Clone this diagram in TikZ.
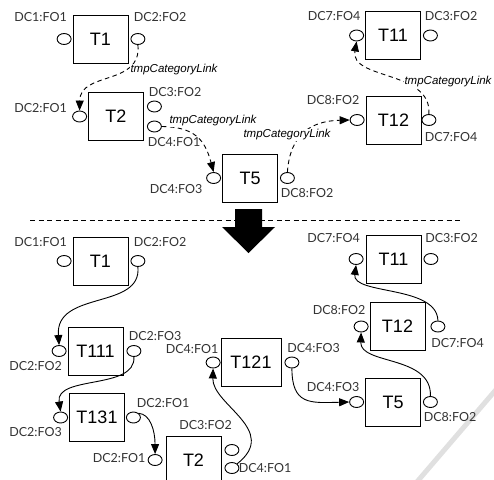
\documentclass[tikz,border=0pt]{standalone}
\usepackage{fontspec}
\setmainfont{Liberation Sans}
\newfontfamily\dcfont{Lato}
\usetikzlibrary{arrows.meta, positioning, shapes.geometric}

\tikzset{
  task/.style={draw, line width=0.9pt, minimum width=55pt, minimum height=48pt, inner sep=0pt, font=\fontsize{18}{18}\selectfont},
  port/.style={draw, line width=0.9pt, ellipse, minimum width=14pt, minimum height=11pt, inner sep=0pt},
  dclabel/.style={font=\dcfont\fontsize{12.5}{12.5}\selectfont, text=black!80, inner sep=0pt},
  linklabel/.style={font=\itshape\fontsize{11.5}{11.5}\selectfont, fill=white, inner sep=0.6pt},
  tmplink/.style={line width=0.9pt, dash pattern=on 4.5pt off 3.5pt, -{Triangle[length=10pt,width=8pt]}},
  catlink/.style={line width=0.9pt, -{Triangle[length=10pt,width=8pt]}}
}

\begin{document}
\begin{tikzpicture}[x=1pt, y=-1pt]
  \useasboundingbox (0,0) rectangle (494,479);
  \clip (0,0) rectangle (494,479);

  % page mark
  \draw[black!12, line width=5pt] (416,483) -- (500,385);

  % --- before ---
  \node[task] (t1) at (100.5,39) {T1};
  \node[task] (t2) at (116,116.5) {T2};
  \node[task] (t5) at (250,178) {T5};
  \node[task] (t12) at (393.5,120) {T12};
  \node[task] (t11) at (393,35.5) {T11};

  \node[port, left=1pt of t1] (t1l) {};
  \node[port, right=2pt of t1] (t1r) {};
  \node[port, left=1pt of t2] (t2l) {};
  \node[port, anchor=west] (t2a) at ([xshift=3pt, yshift=10pt]t2.east) {};
  \node[port, anchor=west] (t2b) at ([xshift=3pt, yshift=-10pt]t2.east) {};
  \node[port, left=1pt of t5] (t5l) {};
  \node[port, right=2pt of t5] (t5r) {};
  \node[port, left=1pt of t12] (t12l) {};
  \node[port, right=0pt of t12] (t12r) {};
  \node[port, left=1pt of t11] (t11l) {};
  \node[port, right=2pt of t11] (t11r) {};

  \node[dclabel] (t1lt) at (40.5,17) {DC1:FO1};
  \node[dclabel] (t1rt) at (160,17) {DC2:FO2};
  \node[dclabel] (t2lt) at (40.5,108) {DC2:FO1};
  \node[dclabel] (t2at) at (175,92) {DC3:FO2};
  \node[dclabel] (t2bt) at (174,142) {DC4:FO1};
  \node[dclabel] (t5lt) at (176,189) {DC4:FO3};
  \node[dclabel] (t5rt) at (307,193) {DC8:FO2};
  \node[dclabel] (t12lt) at (333,100) {DC8:FO2};
  \node[dclabel] (t12rt) at (451,137) {DC7:FO4};
  \node[dclabel] (t11lt) at (334,16) {DC7:FO4};
  \node[dclabel] (t11rt) at (451,16) {DC3:FO2};

  \draw[tmplink] (t1r.south) .. controls (142,86) and (80,71) .. (t2l.north);
  \draw[tmplink] (t2b.east) .. controls (195,127) and (205,140) .. (t5l.north);
  \draw[tmplink] (t5r.north) .. controls (290,135) and (310,121) .. (t12l.west);
  \draw[tmplink] (t12r.north) .. controls (432,70) and (350,80) .. (t11l.south);

  \node[linklabel] (lk1) at (174,70) {tmpCategoryLink};
  \node[linklabel] (lk2) at (213,121) {tmpCategoryLink};
  \node[linklabel] (lk3) at (287,135) {tmpCategoryLink};
  \node[linklabel] (lk4) at (448,82) {tmpCategoryLink};

  % separator and merge arrow
  \draw[line width=0.9pt, dash pattern=on 5pt off 3.5pt] (30,220) -- (462,220);
  \fill (235,209) -- (262,209) -- (262,227) -- (275,227) -- (248.5,253)
    -- (222,227) -- (235,227) -- cycle;

  % --- after ---
  \node[task] (b1) at (100.5,261) {T1};
  \node[task] (b111) at (95.5,351) {T111};
  \node[task] (b131) at (97,417.5) {T131};
  \node[task] (b2) at (193.5,460) {T2};
  \node[task, minimum width=60pt] (b121) at (251,362.5) {T121};
  \node[task] (b5) at (393,402) {T5};
  \node[task] (b12) at (397.5,326.5) {T12};
  \node[task] (b11) at (393.5,259) {T11};

  \node[port, left=1pt of b1] (b1l) {};
  \node[port, right=2pt of b1] (b1r) {};
  \node[port, left=1pt of b111] (b111l) {};
  \node[port, right=3pt of b111] (b111r) {};
  \node[port, left=1pt of b131] (b131l) {};
  \node[port, right=1pt of b131] (b131r) {};
  \node[port, left=3pt of b2] (b2l) {};
  \node[port, anchor=west] (b2a) at ([xshift=3pt, yshift=10pt]b2.east) {};
  \node[port, anchor=west] (b2b) at ([xshift=3pt, yshift=-8pt]b2.east) {};
  \node[port, left=0pt of b121] (b121l) {};
  \node[port, right=3pt of b121] (b121r) {};
  \node[port, left=1pt of b5] (b5l) {};
  \node[port, right=2pt of b5] (b5r) {};
  \node[port, left=1pt of b12] (b12l) {};
  \node[port, right=5pt of b12] (b12r) {};
  \node[port, left=2pt of b11] (b11l) {};
  \node[port, right=2pt of b11] (b11r) {};

  \node[dclabel] (b1lt) at (40.5,242) {DC1:FO1};
  \node[dclabel] (b1rt) at (160,242) {DC2:FO2};
  \node[dclabel] (b111rt) at (155,336) {DC2:FO3};
  \node[dclabel] (b111lt) at (35.5,366) {DC2:FO2};
  \node[dclabel] (b131rt) at (163,403) {DC2:FO1};
  \node[dclabel] (b131lt) at (35.5,432) {DC2:FO3};
  \node[dclabel] (b2lt) at (119,458) {DC2:FO1};
  \node[dclabel] (b2at) at (205.5,425) {DC3:FO2};
  \node[dclabel] (b2bt) at (265,468) {DC4:FO1};
  \node[dclabel] (b121lt) at (192,349) {DC4:FO1};
  \node[dclabel] (b121rt) at (313.5,348) {DC4:FO3};
  \node[dclabel] (b5lt) at (333,387) {DC4:FO3};
  \node[dclabel] (b5rt) at (450,417) {DC8:FO2};
  \node[dclabel] (b12lt) at (339,310) {DC8:FO2};
  \node[dclabel] (b12rt) at (457.5,343) {DC7:FO4};
  \node[dclabel] (b11lt) at (333.5,238) {DC7:FO4};
  \node[dclabel] (b11rt) at (451.5,238) {DC3:FO2};

  \draw[catlink] (b1r.south) .. controls (142,310) and (55,290) .. (b111l.north);
  \draw[catlink] (b111r.south) .. controls (136,390) and (55,375) .. (b131l.north);
  \draw[catlink] (b131r.north east) .. controls (150,414) and (155,430) .. (b2l.north);
  \draw[catlink] (b2b.north east) .. controls (280,430) and (212,405) .. (b121l.south);
  \draw[catlink] (b121r.south) .. controls (292,405) and (310,403) .. (b5l.west);
  \draw[catlink] (b5r.north) .. controls (432,355) and (360,365) .. (b12l.south);
  \draw[catlink] (b12r.north) .. controls (437,285) and (352,295) .. (b11l.south);
\end{tikzpicture}
\end{document}
